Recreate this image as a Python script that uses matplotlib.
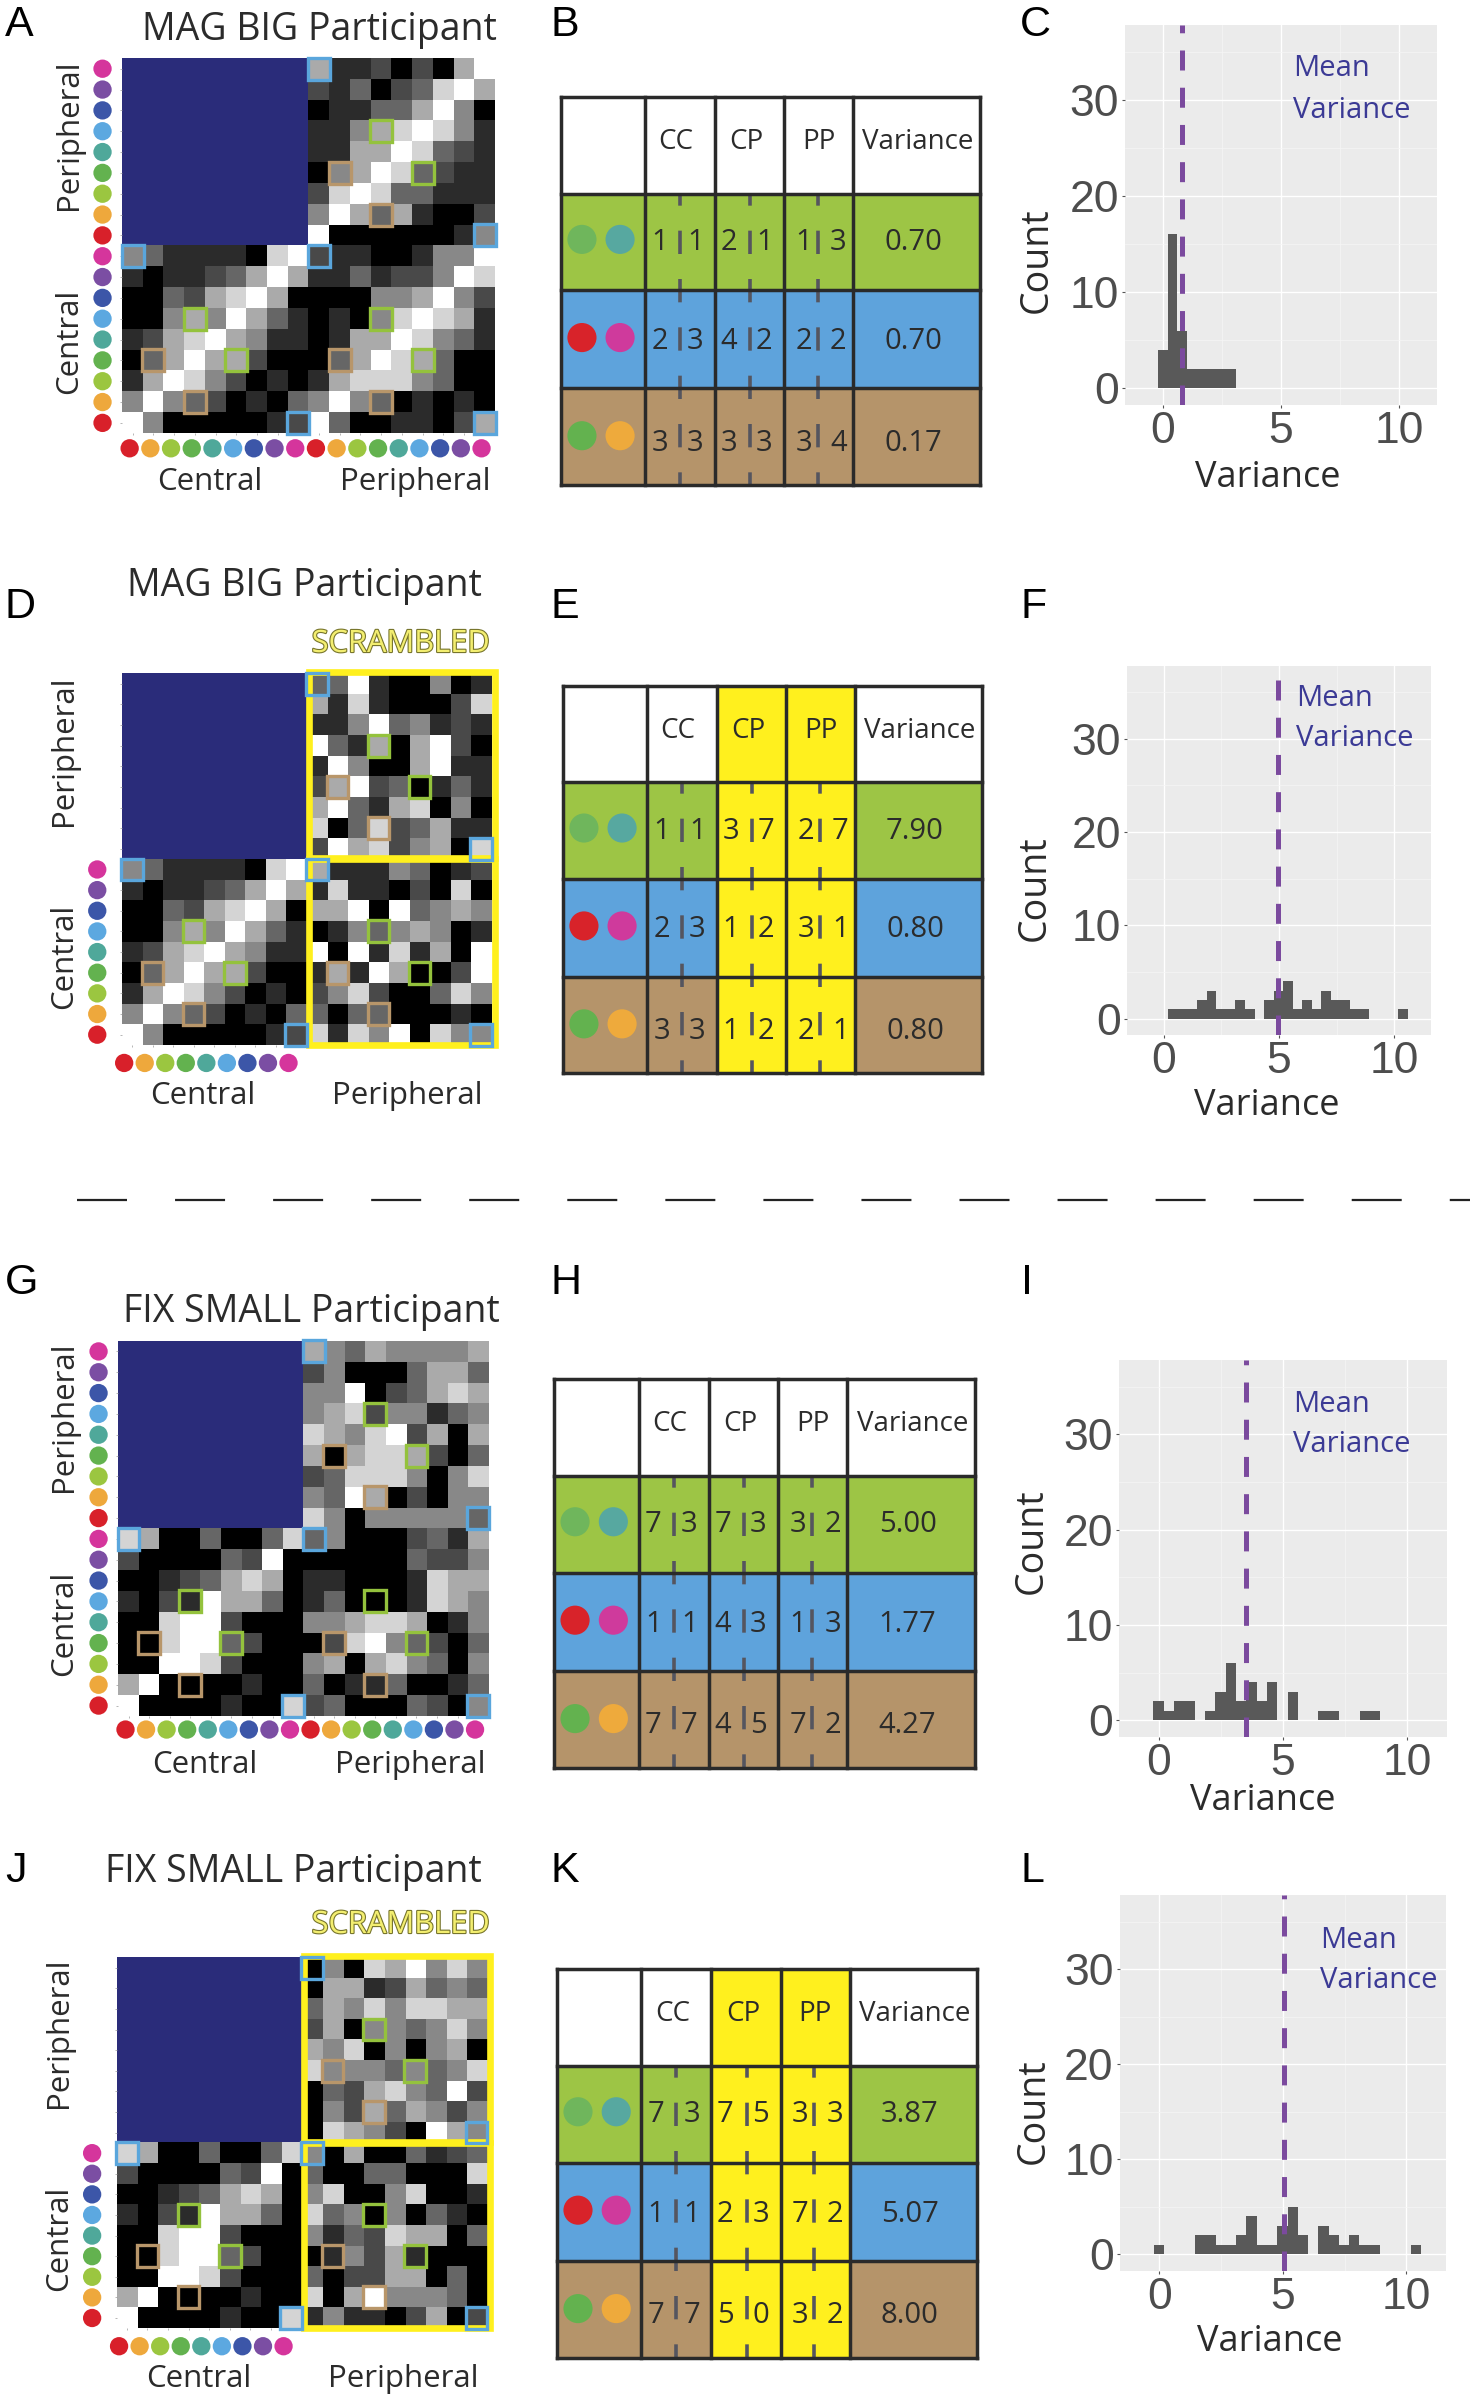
import numpy as np
import matplotlib
matplotlib.use("Agg")
import matplotlib.pyplot as plt
import matplotlib.patheffects as pe
from matplotlib.colors import ListedColormap
from matplotlib.patches import Rectangle

plt.rcParams["lines.scale_dashes"] = False

W, H = 1473, 2400
LABEL_FONT = "Open Sans"
NUM_FONT = "Liberation Sans"

# grey level per cell, 0 black .. 7 white, rows from the top
mag_left = ["431111067", "101123575", "003256750", "004547531", "125675411",
            "035755200", "157642010", "474320103", "740000012"]
mag_top = ["511202057", "213023675", "011335740", "114567641", "115576321",
           "045763211", "267633111", "475351002", "700000014"]
mag_bottom = ["211001447", "113122476", "000445742", "010467651", "015576431",
              "035765300", "156664300", "474301010", "730011025"]
mag_scr_top = ["337100401", "516100026", "114734121", "731505720", "174005711",
               "257230131", "573156040", "603623511", "275624506"]
mag_scr_bottom = ["511143012", "161102060", "557073454", "014345401", "707161507",
                  "151750027", "246200364", "303300010", "616470644"]
fix_left = ["650030036", "200003270", "001235650", "102175530", "006772000",
            "006773200", "007762000", "570000100", "700001006"]
fix_top = ["543544445", "240003553", "447023565", "456244134", "654672505",
           "505665203", "236664046", "437502044", "640444443"]
fix_bottom = ["340002315", "000003224", "110001655", "130001654", "445665014",
              "026743203", "450564304", "301130013", "230003204"]
fix_scr_top = ["040657464", "055125343", "354646655", "250443464", "546040450",
               "644434346", "032564372", "042535424", "065420754"]
fix_scr_bottom = ["405003123", "300330006", "460046001", "634040310", "413265503",
                  "014251000", "302255030", "605744430", "141102502"]

# row, col of the outlined cells
blue_boxes = [(0, 9), (8, 17), (9, 0), (9, 9), (17, 8), (17, 17)]
green_boxes = [(3, 12), (5, 14), (12, 3), (14, 5), (12, 12), (14, 14)]
brown_boxes = [(5, 10), (7, 12), (14, 1), (16, 3), (14, 10), (16, 12)]

dot_colors = ["#d5359c", "#7b4ea3", "#3c56a8", "#5ca8e0", "#4fa89a",
              "#63b24f", "#9bc640", "#eea83c", "#d8202a"]

# tables: one row per pair, CC CP PP left|right then variance
table_b = [[(1, 1), (2, 1), (1, 3), "0.70"], [(2, 3), (4, 2), (2, 2), "0.70"], [(3, 3), (3, 3), (3, 4), "0.17"]]
table_e = [[(1, 1), (3, 7), (2, 7), "7.90"], [(2, 3), (1, 2), (3, 1), "0.80"], [(3, 3), (1, 2), (2, 1), "0.80"]]
table_h = [[(7, 3), (7, 3), (3, 2), "5.00"], [(1, 1), (4, 3), (1, 3), "1.77"], [(7, 7), (4, 5), (7, 2), "4.27"]]
table_k = [[(7, 3), (7, 5), (3, 3), "3.87"], [(1, 1), (2, 3), (7, 2), "5.07"], [(7, 7), (5, 0), (3, 2), "8.00"]]
table_headers = ["CC", "CP", "PP", "Variance"]

# histogram counts per bin, bins centred on 0, 0.415, 0.83 ...
counts_c = [4, 16, 6, 2, 2, 2, 2, 2]
counts_f = [0, 1, 1, 1, 2, 3, 1, 1, 2, 1, 0, 2, 3, 4, 1, 2, 1, 3, 2, 2, 1, 1, 0, 0, 0, 1]
counts_i = [2, 1, 2, 2, 0, 1, 3, 6, 2, 4, 2, 4, 0, 3, 0, 0, 1, 1, 0, 0, 1, 1]
counts_l = [1, 0, 0, 0, 2, 2, 1, 1, 2, 4, 1, 1, 3, 5, 2, 0, 3, 2, 1, 2, 1, 1, 0, 0, 0, 1]
mean_c, mean_f, mean_i, mean_l = 0.82, 4.97, 3.51, 5.04
BIN = 0.415

fig = plt.figure(figsize=(W / 100, H / 100), dpi=100, facecolor="white")


def px_axes(x0, y0, x1, y1):
    return fig.add_axes([x0 / W, 1 - y1 / H, (x1 - x0) / W, (y1 - y0) / H])


over = fig.add_axes([0, 0, 1, 1])
over.set_xlim(0, W)
over.set_ylim(H, 0)
over.axis("off")
over.set_zorder(10)
over.patch.set_alpha(0)


def stack(left, top, bottom):
    to_arr = lambda rows: np.array([[int(c) for c in r] for r in rows])
    blue = np.full((9, 9), 8)
    return np.vstack([np.hstack([blue, to_arr(top)]), np.hstack([to_arr(left), to_arr(bottom)])])


def matrix(box, cells, scrambled, dot_x, dot_y, shift):
    ax = px_axes(*box)
    cmap = ListedColormap(["#000000", "#2b2b2b", "#494949", "#666666", "#888888",
                           "#aaaaaa", "#d4d4d4", "#ffffff", "#2a2c7a"])
    ax.imshow(cells, cmap=cmap, vmin=0, vmax=8, aspect="auto", interpolation="nearest")
    ax.set_xticks(range(18))
    ax.set_yticks(range(18))
    ax.tick_params(length=1.5, width=0.5, color="#999999", labelleft=False, labelbottom=False, pad=0)
    for s in ax.spines.values():
        s.set_visible(False)
    if scrambled:
        for y0, y1 in ((-0.58, 8.45), (8.5, 17.5)):
            ax.add_patch(Rectangle((8.63, y0), 9.03, y1 - y0, fill=False, ec="#fff01e", lw=4.8,
                                   clip_on=False, zorder=3))
    for boxes, col in ((blue_boxes, "#5aa6dc"), (green_boxes, "#94c23d"), (brown_boxes, "#b8966a")):
        for r, c in boxes:
            ax.add_patch(Rectangle((c - 0.53, r - 0.53), 1.06, 1.06, fill=False, ec=col, lw=2.4,
                                   clip_on=False, zorder=4))
    rows = np.arange(18)
    colors_left = dot_colors * 2
    colors_bottom = dot_colors[::-1] + dot_colors[::-1]
    keep = 9 if scrambled else 0
    ax.scatter([dot_x] * (18 - keep), rows[keep:], s=174, c=colors_left[keep:], lw=0, clip_on=False, zorder=5)
    n = 9 if scrambled else 18
    ax.scatter(rows[:n] + shift, [dot_y] * n, s=174, c=colors_bottom[:n], lw=0, clip_on=False, zorder=5)
    ax.set_xlim(-0.5, 17.5)
    ax.set_ylim(17.5, -0.5)


def table(box, rows, yellow):
    x0, y0, x1, y1 = box
    ax = px_axes(x0, y0, x1, y1)
    ax.set_xlim(0, 1)
    ax.set_ylim(1, 0)
    ax.axis("off")
    cols = [0, 0.201, 0.367, 0.533, 0.697, 1]
    row_y = [0, 0.249, 0.498, 0.751, 1]
    fills = ["white", "#9dc545", "#5ea3dc", "#b5946a"]
    for r in range(4):
        ax.add_patch(Rectangle((0, row_y[r]), 1, row_y[r + 1] - row_y[r], fc=fills[r], ec="none"))
    if yellow:
        ax.add_patch(Rectangle((cols[2], 0), cols[4] - cols[2], 1, fc="#fff01e", ec="none"))
    dash_x = [0.284, 0.452, 0.613]
    for x in dash_x:
        ax.plot([x, x], [row_y[1], 1], color="#55555f", lw=2.6,
                ls=(8.4, (16.8, 18.0)), dash_capstyle="butt", zorder=2)
    for x in cols:
        ax.plot([x, x], [0, 1], color="#2a2a2a", lw=2.5, clip_on=False, zorder=3, solid_capstyle="projecting")
    for y in row_y:
        ax.plot([0, 1], [y, y], color="#2a2a2a", lw=2.5, clip_on=False, zorder=3, solid_capstyle="projecting")
    tw, th = x1 - x0, y1 - y0
    for i, h in enumerate(table_headers):
        cx = [0.275, 0.443, 0.615, 0.851][i]
        over.text(x0 + cx * tw, y0 + 0.116 * th, h, family=LABEL_FONT, fontsize=20, color="#2b2b2b",
                  ha="center", va="center")
    offs = [(-0.048, 0.037), (-0.051, 0.033), (-0.034, 0.049)]
    text_y = [0.375, 0.630, 0.892]
    dot_y = [0.367, 0.620, 0.873]
    pair_colors = [("#6fb65c", "#57a8a0"), ("#d8232a", "#cf3a9c"), ("#63b24f", "#eeaa3c")]
    for r, row in enumerate(rows):
        ax.scatter([0.05, 0.141], [dot_y[r]] * 2, s=440, c=pair_colors[r], lw=0, zorder=4)
        for c in range(3):
            for k in range(2):
                over.text(x0 + (dash_x[c] + offs[c][k]) * tw, y0 + text_y[r] * th, str(row[c][k]),
                          family=LABEL_FONT, fontsize=21, color="#2b2b2b", ha="center", va="center")
        over.text(x0 + 0.84 * tw, y0 + text_y[r] * th, row[3], family=LABEL_FONT, fontsize=21,
                  color="#2b2b2b", ha="center", va="center")


def hist(box, counts, mean):
    ax = px_axes(*box)
    ax.set_facecolor("#ebebeb")
    ax.bar(np.arange(len(counts)) * BIN, counts, width=BIN, color="#595959", lw=0, zorder=2)
    ax.axvline(mean, color="#7b4a9e", lw=3.6, ls=(0, (14.4, 12.4)), dash_capstyle="butt", zorder=3)
    ax.set_xlim(-1.59, 11.6)
    ax.set_ylim(-1.75, 37.8)
    ax.set_xticks([0, 5, 10])
    ax.set_yticks([0, 10, 20, 30])
    ax.set_xticks([2.5, 7.5], minor=True)
    ax.set_yticks([5, 15, 25, 35], minor=True)
    ax.grid(which="major", color="white", lw=1.0, zorder=1)
    ax.grid(which="minor", color="#f6f6f6", lw=0.5, zorder=1)
    ax.set_axisbelow(True)
    ax.tick_params(which="major", length=2.5, width=0.8, color="#555555", labelcolor="#4d4d4d",
                   labelsize=32, pad=2)
    ax.tick_params(which="minor", length=0)
    for lab in ax.get_xticklabels() + ax.get_yticklabels():
        lab.set_family(NUM_FONT)
    for s in ax.spines.values():
        s.set_visible(False)


def mat_labels(title, title_right, title_base, left_x, per_y, cen_y, cen_x, per_x, base):
    over.text(title_right, title_base, title, family=LABEL_FONT, fontsize=27, color="#2b2b2b", ha="right", va="baseline")
    over.text(left_x, per_y, "Peripheral", family=LABEL_FONT, fontsize=22.5, color="#2b2b2b", rotation=90, ha="center", va="center")
    over.text(left_x, cen_y, "Central", family=LABEL_FONT, fontsize=22.5, color="#2b2b2b", rotation=90, ha="center", va="center")
    over.text(cen_x, base, "Central", family=LABEL_FONT, fontsize=22.5, color="#2b2b2b", ha="center", va="baseline")
    over.text(per_x, base, "Peripheral", family=LABEL_FONT, fontsize=22.5, color="#2b2b2b", ha="center", va="baseline")


def scrambled_label(y):
    over.text(490, y, "SCRAMBLED", family=LABEL_FONT, fontsize=22.2, color="#f3ee70", ha="right", va="baseline",
              path_effects=[pe.withStroke(linewidth=1.6, foreground="#77752c")])


def hist_labels(count_x, count_y, var_x, var_base, mean_x, y1, y2):
    over.text(count_x, count_y, "Count", family=LABEL_FONT, fontsize=27, color="#2b2b2b", rotation=90, ha="center", va="center")
    over.text(var_x, var_base, "Variance", family=LABEL_FONT, fontsize=26, color="#2b2b2b", ha="center", va="baseline")
    over.text(mean_x, y1, "Mean", family=LABEL_FONT, fontsize=21, color="#3b3a95", ha="left", va="center")
    over.text(mean_x, y2, "Variance", family=LABEL_FONT, fontsize=21, color="#3b3a95", ha="left", va="center")


matrix((122.4, 58.3, 495, 433.3), stack(mag_left, mag_top, mag_bottom), False, -1.46, 18.22, -0.15)
matrix((121.7, 673.3, 491.5, 1045), stack(mag_left, mag_scr_top, mag_scr_bottom), True, -1.69, 18.37, -0.38)
matrix((118.3, 1341, 488.4, 1716), stack(fix_left, fix_top, fix_bottom), False, -1.46, 18.15, -0.15)
matrix((116.6, 1957.4, 486.7, 2328.3), stack(fix_left, fix_scr_top, fix_scr_bottom), True, -1.69, 18.37, -0.38)

mat_labels("MAG BIG Participant", 497, 40, 69, 135, 341, 209.6, 415.7, 490)
mat_labels("MAG BIG Participant", 481.7, 595.8, 64, 751, 956, 202.8, 407, 1103.7)
mat_labels("FIX SMALL Participant", 499.6, 1322, 64, 1417, 1623, 204.5, 410.7, 1773)
mat_labels("FIX SMALL Participant", 481.7, 1882.4, 59, 2033, 2238, 198.4, 403, 2387)
scrambled_label(652)
scrambled_label(1933)

table((561, 97, 980, 485), table_b, False)
table((563, 686, 982, 1073), table_e, True)
table((554, 1379, 975, 1768), table_h, False)
table((557, 1969, 977, 2358), table_k, True)

hist((1125, 25, 1437, 405), counts_c, mean_c)
hist((1127, 666, 1431, 1035), counts_f, mean_f)
hist((1119, 1360, 1447, 1737), counts_i, mean_i)
hist((1120, 1895, 1446, 2271), counts_l, mean_l)

hist_labels(1037, 260, 1268, 487, 1293, 68, 110)
hist_labels(1035, 888, 1267, 1115, 1296, 698, 738)
hist_labels(1032, 1541, 1263, 1810, 1293, 1404, 1445)
hist_labels(1034, 2111, 1270, 2351, 1320, 1941, 1981)

panel_letters = {"A": (5, 25), "B": (551, 25), "C": (1020, 25), "D": (5, 607), "E": (551, 607), "F": (1021, 607),
                 "G": (5, 1283), "H": (551, 1283), "I": (1021, 1283), "J": (5, 1871), "K": (551, 1871), "L": (1021, 1871)}
for name, (x, y) in panel_letters.items():
    over.text(x, y, name, family=NUM_FONT, fontsize=31, color="black", ha="left", va="center")

over.plot([77, 1470], [1200, 1200], color="#222222", lw=1.6, ls=(0, (36, 34.6)), dash_capstyle="butt")

fig.savefig("out.png", dpi=100)
